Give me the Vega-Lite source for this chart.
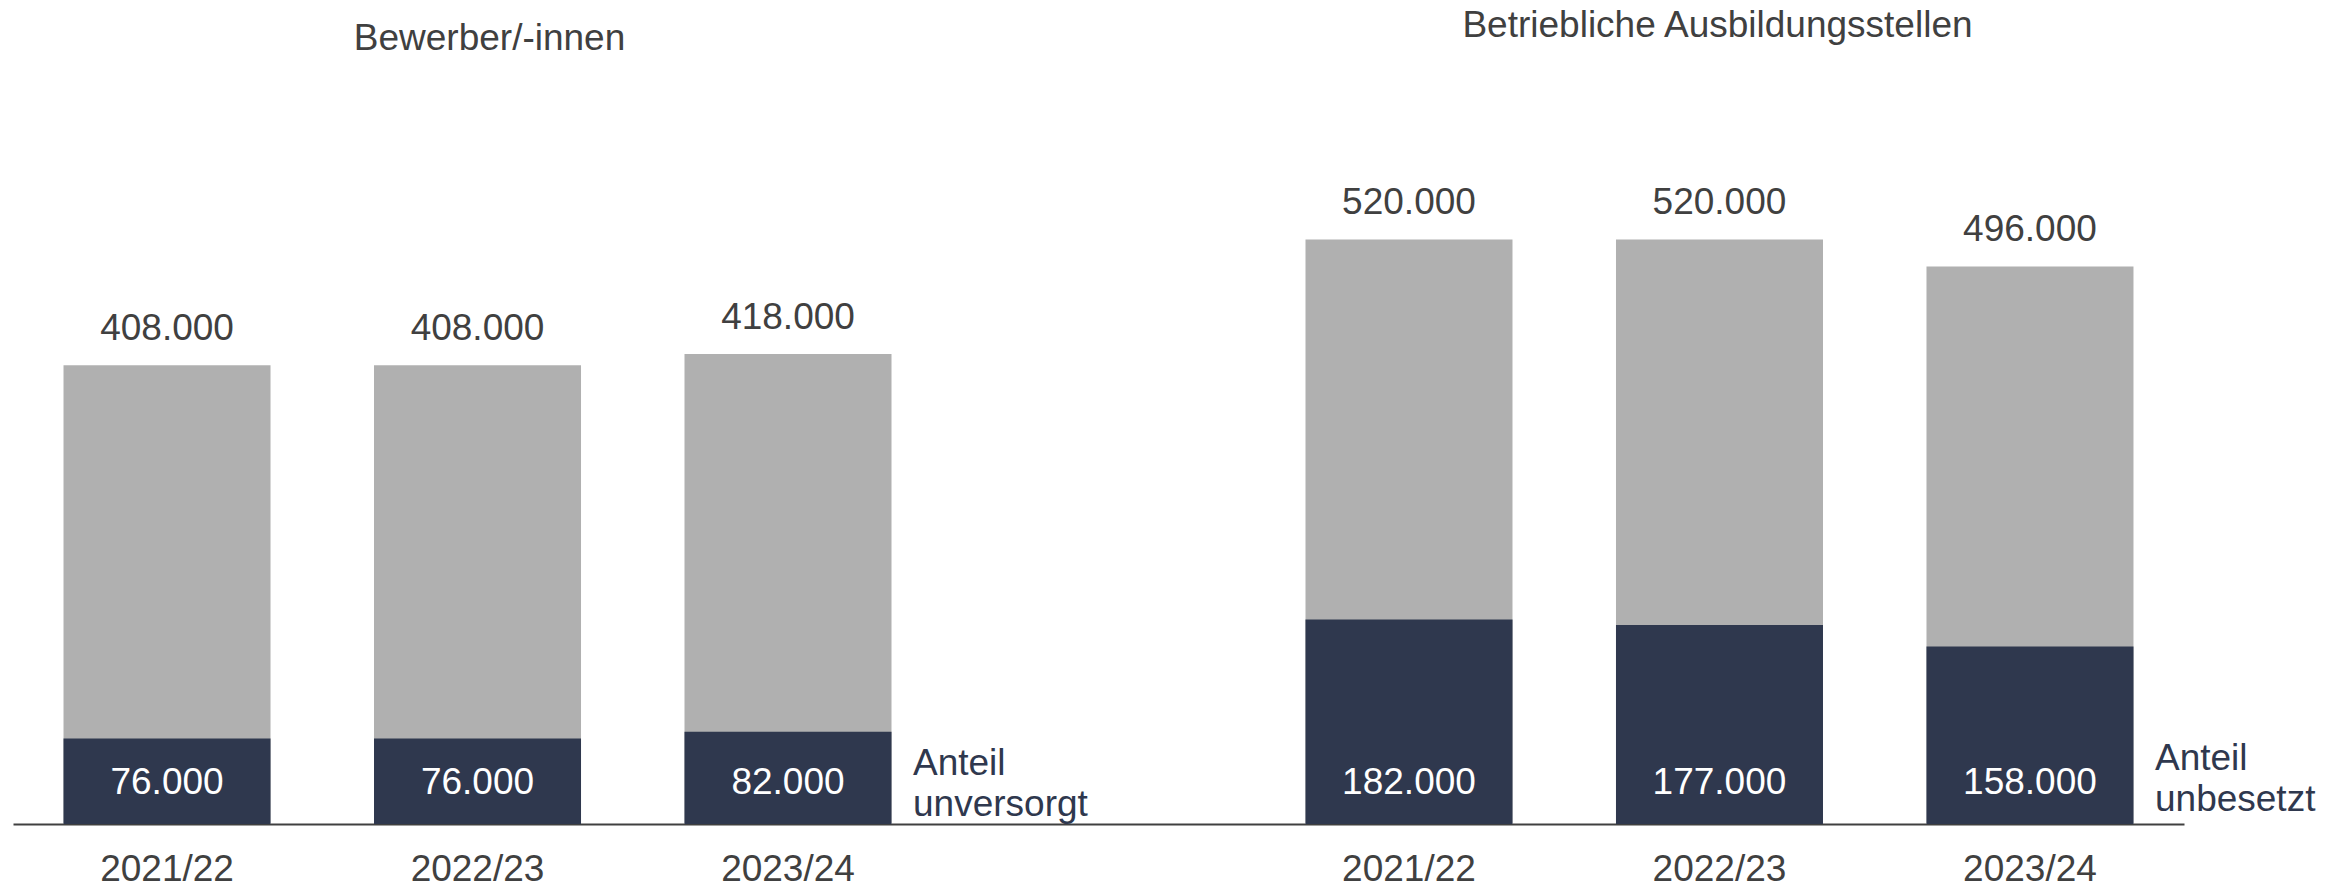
{
  "$schema": "https://vega.github.io/schema/vega-lite/v6.json",
  "width": 2171,
  "height": 824,
  "padding": {"left": 13, "top": 0, "right": 5, "bottom": 4},
  "autosize": {"type": "pad"},
  "config": {
    "view": {"stroke": null},
    "font": "Liberation Sans",
    "locale": {"number": {"decimal": ",", "thousands": ".", "grouping": [3], "currency": ["", " €"]}}
  },
  "datasets": {
    "main": [
      {"group": "Bewerber/-innen", "year": "2021/22", "key": "B 2021/22", "total": 408000, "part": 76000, "note": "Anteil\nunversorgt"},
      {"group": "Bewerber/-innen", "year": "2022/23", "key": "B 2022/23", "total": 408000, "part": 76000, "note": "Anteil\nunversorgt"},
      {"group": "Bewerber/-innen", "year": "2023/24", "key": "B 2023/24", "total": 418000, "part": 82000, "note": "Anteil\nunversorgt"},
      {"group": "Betriebliche Ausbildungsstellen", "year": "2021/22", "key": "S 2021/22", "total": 520000, "part": 182000, "note": "Anteil\nunbesetzt"},
      {"group": "Betriebliche Ausbildungsstellen", "year": "2022/23", "key": "S 2022/23", "total": 520000, "part": 177000, "note": "Anteil\nunbesetzt"},
      {"group": "Betriebliche Ausbildungsstellen", "year": "2023/24", "key": "S 2023/24", "total": 496000, "part": 158000, "note": "Anteil\nunbesetzt"}
    ]
  },
  "data": {"name": "main"},
  "encoding": {
    "x": {
      "field": "key",
      "type": "nominal",
      "sort": null,
      "scale": {
        "domain": ["B 2021/22", "B 2022/23", "B 2023/24", "gap", "S 2021/22", "S 2022/23", "S 2023/24"],
        "paddingInner": 0.3333,
        "paddingOuter": 0.1627
      },
      "axis": {
        "title": null,
        "ticks": false,
        "domain": true,
        "domainColor": "#404040",
        "domainWidth": 2,
        "labelAngle": 0,
        "labelFont": "Liberation Sans",
        "labelFontSize": 37,
        "labelColor": "#404040",
        "labelPadding": 27,
        "grid": false,
        "labelExpr": "datum.value == 'gap' ? '' : substring(datum.value, 2)"
      }
    }
  },
  "layer": [
    {
      "mark": {"type": "bar", "color": "#b0b0b0"},
      "encoding": {
        "y": {"field": "total", "type": "quantitative", "scale": {"domain": [0, 733000], "nice": false, "zero": true}, "axis": null}
      }
    },
    {
      "mark": {"type": "bar", "color": "#2f384e"},
      "encoding": {
        "y": {"field": "part", "type": "quantitative", "scale": {"domain": [0, 733000], "nice": false, "zero": true}, "axis": null}
      }
    },
    {
      "mark": {"type": "text", "baseline": "alphabetic", "dy": -25, "fontSize": 37, "color": "#404040", "font": "Liberation Sans"},
      "encoding": {
        "y": {"field": "total", "type": "quantitative", "scale": {"domain": [0, 733000], "nice": false, "zero": true}, "axis": null},
        "text": {"field": "total", "type": "quantitative", "format": ",.0f"}
      }
    },
    {
      "mark": {"type": "text", "baseline": "alphabetic", "dy": -30, "fontSize": 37, "color": "#ffffff", "font": "Liberation Sans"},
      "encoding": {
        "y": {"datum": 0, "type": "quantitative", "scale": {"domain": [0, 733000], "nice": false, "zero": true}, "axis": null},
        "text": {"field": "part", "type": "quantitative", "format": ",.0f"}
      }
    },
    {
      "transform": [{"filter": "datum.key == 'B 2023/24'"}],
      "mark": {"type": "text", "baseline": "alphabetic", "align": "left", "dx": 125, "dy": -49, "fontSize": 37, "lineHeight": 41, "lineBreak": "\n", "color": "#2f384e", "font": "Liberation Sans"},
      "encoding": {
        "y": {"datum": 0, "type": "quantitative", "scale": {"domain": [0, 733000], "nice": false, "zero": true}, "axis": null},
        "text": {"field": "note", "type": "nominal"}
      }
    },
    {
      "transform": [{"filter": "datum.key == 'S 2023/24'"}],
      "mark": {"type": "text", "baseline": "alphabetic", "align": "left", "dx": 125, "dy": -54, "fontSize": 37, "lineHeight": 41, "lineBreak": "\n", "color": "#2f384e", "font": "Liberation Sans"},
      "encoding": {
        "y": {"datum": 0, "type": "quantitative", "scale": {"domain": [0, 733000], "nice": false, "zero": true}, "axis": null},
        "text": {"field": "note", "type": "nominal"}
      }
    },
    {
      "transform": [{"filter": "datum.key == 'B 2022/23'"}],
      "mark": {"type": "text", "baseline": "alphabetic", "dx": 12, "fontSize": 37, "color": "#404040", "font": "Liberation Sans"},
      "encoding": {
        "y": {"datum": 688600, "type": "quantitative", "scale": {"domain": [0, 733000], "nice": false, "zero": true}, "axis": null},
        "text": {"field": "group", "type": "nominal"}
      }
    },
    {
      "transform": [{"filter": "datum.key == 'S 2022/23'"}],
      "mark": {"type": "text", "baseline": "alphabetic", "dx": -2, "fontSize": 37, "color": "#404040", "font": "Liberation Sans"},
      "encoding": {
        "y": {"datum": 700200, "type": "quantitative", "scale": {"domain": [0, 733000], "nice": false, "zero": true}, "axis": null},
        "text": {"field": "group", "type": "nominal"}
      }
    }
  ]
}
